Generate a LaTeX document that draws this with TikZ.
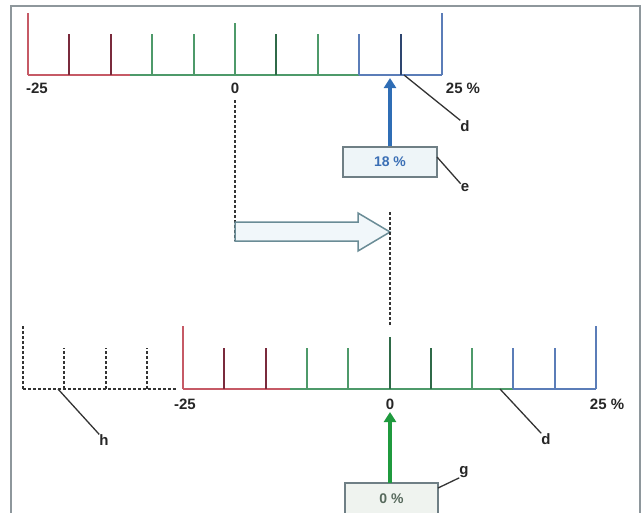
\documentclass[tikz,border=0pt]{standalone}
\usepackage{fontspec}
\setmainfont{Liberation Sans}
\usetikzlibrary{arrows.meta}
\definecolor{framec}{HTML}{8E979C}
\definecolor{redl}{HTML}{C65A66}
\definecolor{redd}{HTML}{7A2A3C}
\definecolor{greenl}{HTML}{4E9A6A}
\definecolor{greend}{HTML}{2F6A48}
\definecolor{bluel}{HTML}{5B7DB8}
\definecolor{blued}{HTML}{2E4670}
\definecolor{arrblue}{HTML}{2F6DB5}
\definecolor{arrgreen}{HTML}{1F9A3E}
\definecolor{boxedge}{HTML}{6F7F85}
\definecolor{boxfillb}{HTML}{EEF5F8}
\definecolor{boxfillg}{HTML}{EFF3EF}
\definecolor{hollowedge}{HTML}{6A8C96}
\definecolor{hollowfill}{HTML}{F1F7FA}
\definecolor{dashc}{HTML}{333333}
\definecolor{txtb}{HTML}{3B6FB5}
\definecolor{txtg}{HTML}{56695C}
\begin{document}
\begin{tikzpicture}[x=1pt,y=-1pt,
  lbl/.style={font=\bfseries\fontsize{15}{17}\selectfont, text=black!85, inner sep=0pt},
  tick/.style={line width=2.2pt},
  base/.style={line width=2.2pt},
  dline/.style={dashc, line width=1.8pt, dash pattern=on 3pt off 2pt},
  leader/.style={black!80, line width=1.3pt},
  valbox/.style={draw=boxedge, line width=1.5pt, minimum width=94pt, minimum height=30pt, inner sep=0pt, font=\bfseries\fontsize{14}{16}\selectfont},
  vbarrow/.style={line width=4pt, -{Triangle[width=12pt,length=10pt]}}
]
\useasboundingbox (0,0) rectangle (644,512);
\clip (0,0) rectangle (644,512);
% frame
\draw[framec, line width=1.8pt] (11,530) -- (11,6) -- (640,6) -- (640,530);

% ---------- top scale ----------
\draw[base, redl] (28,75) -- (130,75);
\draw[base, greenl] (130,75) -- (359,75);
\draw[base, bluel] (359,75) -- (442,75);
\foreach \i/\t/\c in {0/13/redl,1/34/redd,2/34/redd,3/34/greenl,4/34/greenl,5/23/greenl,6/34/greend,7/34/greenl,8/34/bluel,9/34/blued,10/13/bluel}
  \draw[tick, \c] ({round(28+41.4*\i)},75) -- ({round(28+41.4*\i)},\t);
\node[lbl] (tm25) at (37,88) {-25};
\node[lbl] (t0) at (235,88) {0};
\node[lbl] (t25) at (463,88) {25 \%};

% value box 18 %
\node[valbox, fill=boxfillb, text=txtb] (b18) at (390,162) {18 \%};
\coordinate (p18) at (390,78);
\draw[vbarrow, arrblue] (b18.north) -- (p18);

% leader d (top)
\coordinate (dt) at (404,75);
\node[lbl] (dlt) at (465,126) {d};
\draw[leader] (dt) -- (dlt.north west);
% leader e
\coordinate (eb) at (437,157);
\node[lbl] (elb) at (465,188) {e};
\draw[leader] (eb) -- (elb.north west);

% dashed vertical from 0 (top)
\coordinate (z1a) at (235,100);
\coordinate (z1b) at (235,241);
\draw[dline] (z1a) -- (z1b);

% hollow shift arrow
\coordinate (ha) at (235,222);
\coordinate (hb) at (390,232);
\draw[hollowedge, fill=hollowfill, line width=1.5pt, line join=miter]
  (ha) -- (358,222) -- (358,213) -- (hb) -- (358,251) -- (358,241) -- (235,241) -- cycle;

% dashed vertical (shifted zero)
\coordinate (z2a) at (390,212);
\coordinate (z2b) at (390,326);
\draw[dline] (z2a) -- (z2b);

% ---------- bottom scale ----------
\draw[dline] (23,389) -- (176,389);
\foreach \i/\t in {0/326,1/348,2/348,3/348}
  \draw[dline] ({round(23+41.3*\i)},389) -- ({round(23+41.3*\i)},\t);

\draw[base, redl] (183,389) -- (290,389);
\draw[base, greenl] (290,389) -- (513,389);
\draw[base, bluel] (513,389) -- (596,389);
\foreach \i/\t/\c in {0/326/redl,1/348/redd,2/348/redd,3/348/greenl,4/348/greenl,5/337/greend,6/348/greend,7/348/greenl,8/348/bluel,9/348/bluel,10/326/bluel}
  \draw[tick, \c] ({round(183+41.3*\i)},389) -- ({round(183+41.3*\i)},\t);
\node[lbl] (bm25) at (185,404) {-25};
\node[lbl] (b0l) at (390,404) {0};
\node[lbl] (b25) at (607,404) {25 \%};

% leader h
\coordinate (hs) at (58,389);
\node[lbl] (hl) at (104,440) {h};
\draw[leader] (hs) -- (hl.north west);
% leader d (bottom)
\coordinate (ds) at (500,389);
\node[lbl] (dlb) at (546,439) {d};
\draw[leader] (ds) -- (dlb.north west);

% value box 0 %
\node[valbox, fill=boxfillg, text=txtg, minimum width=93pt, minimum height=32pt] (b0) at (391.5,499) {0 \%};
\coordinate (p0) at (390,412);
\draw[vbarrow, arrgreen] (390,483) -- (p0);
% leader g
\coordinate (gs) at (438,488);
\node[lbl] (gl) at (464,472) {g};
\draw[leader] (gs) -- (gl.south west);
\end{tikzpicture}
\end{document}
